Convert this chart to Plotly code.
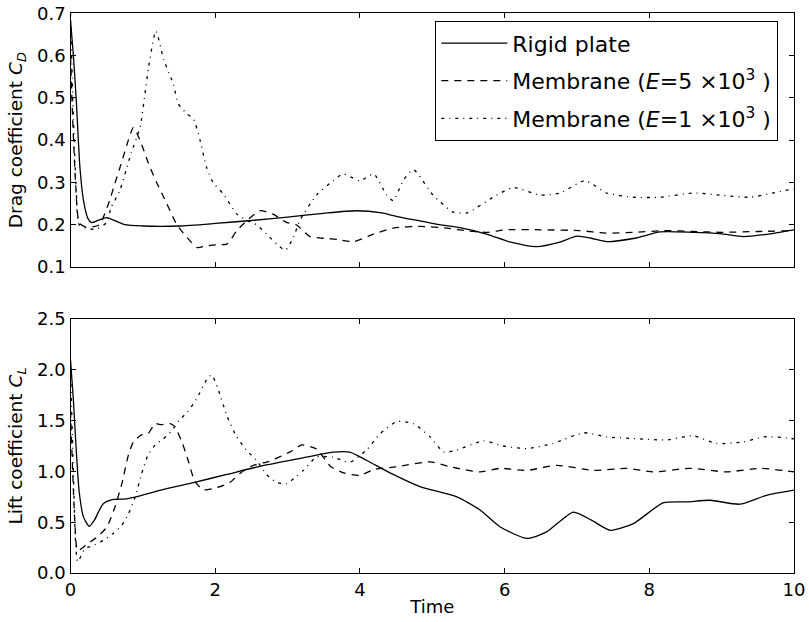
import plotly.graph_objects as go

# ---- data ----
t_cd_rigid = [0, 0.04, 0.08, 0.13, 0.18, 0.24, 0.29, 0.38, 0.5, 0.75, 1.0, 1.5, 2.0, 2.5, 3.0, 3.5, 3.95, 4.3, 4.55, 4.83, 5.1, 5.38, 5.75, 6.1, 6.44, 6.75, 7.0, 7.2, 7.41, 7.8, 8.15, 8.6, 8.98, 9.3, 9.65, 10.0]
cd_rigid = [0.684, 0.6, 0.494, 0.336, 0.257, 0.215, 0.205, 0.21, 0.217, 0.2, 0.197, 0.197, 0.203, 0.21, 0.218, 0.227, 0.233, 0.228, 0.218, 0.209, 0.2, 0.193, 0.178, 0.158, 0.148, 0.158, 0.173, 0.168, 0.16, 0.168, 0.183, 0.182, 0.179, 0.172, 0.178, 0.188]

t_cd_mem5 = [0, 0.03, 0.07, 0.12, 0.2, 0.3, 0.4, 0.54, 0.6, 0.7, 0.8, 0.87, 0.96, 1.08, 1.19, 1.33, 1.47, 1.61, 1.75, 1.88, 2.04, 2.16, 2.3, 2.44, 2.62, 2.8, 2.99, 3.12, 3.31, 3.5, 3.7, 3.91, 4.19, 4.46, 4.83, 5.2, 5.5, 5.75, 6.03, 6.5, 7.04, 7.4, 7.8, 8.2, 8.6, 9.0, 9.5, 10.0]
cd_mem5 = [0.6, 0.45, 0.3, 0.205, 0.195, 0.195, 0.2, 0.257, 0.29, 0.344, 0.4, 0.43, 0.4, 0.344, 0.3, 0.25, 0.2, 0.17, 0.146, 0.15, 0.153, 0.154, 0.186, 0.21, 0.233, 0.225, 0.205, 0.2, 0.172, 0.168, 0.165, 0.16, 0.178, 0.192, 0.196, 0.192, 0.185, 0.182, 0.188, 0.188, 0.186, 0.18, 0.182, 0.186, 0.184, 0.182, 0.184, 0.186]

t_cd_mem1 = [0, 0.04, 0.08, 0.12, 0.25, 0.36, 0.5, 0.56, 0.68, 0.77, 0.84, 0.96, 1.03, 1.08, 1.18, 1.29, 1.42, 1.49, 1.61, 1.7, 1.79, 1.88, 1.97, 2.11, 2.2, 2.3, 2.44, 2.57, 2.71, 2.85, 2.97, 3.08, 3.17, 3.4, 3.63, 3.77, 4.0, 4.19, 4.37, 4.46, 4.6, 4.74, 5.01, 5.29, 5.48, 5.84, 6.12, 6.49, 6.77, 7.11, 7.41, 7.78, 8.15, 8.61, 8.98, 9.39, 9.71, 10.0]
cd_mem1 = [0.7, 0.45, 0.28, 0.2, 0.19, 0.19, 0.205, 0.24, 0.28, 0.33, 0.37, 0.43, 0.51, 0.573, 0.658, 0.59, 0.533, 0.486, 0.462, 0.45, 0.4, 0.336, 0.3, 0.273, 0.25, 0.225, 0.21, 0.2, 0.178, 0.154, 0.14, 0.17, 0.21, 0.27, 0.304, 0.32, 0.304, 0.32, 0.27, 0.257, 0.305, 0.33, 0.27, 0.23, 0.228, 0.265, 0.288, 0.27, 0.275, 0.304, 0.275, 0.265, 0.265, 0.275, 0.27, 0.265, 0.275, 0.285]

t_cl_rigid = [0, 0.04, 0.08, 0.12, 0.18, 0.26, 0.33, 0.45, 0.59, 0.77, 0.96, 1.33, 1.7, 2.16, 2.62, 3.12, 3.63, 3.86, 4.09, 4.46, 4.83, 5.34, 5.66, 5.94, 6.31, 6.58, 6.95, 7.2, 7.46, 7.78, 8.19, 8.52, 8.84, 9.25, 9.62, 10.0]
cl_rigid = [2.1, 1.7, 1.2, 0.8, 0.55, 0.46, 0.52, 0.68, 0.724, 0.73, 0.76, 0.83, 0.89, 0.97, 1.05, 1.12, 1.19, 1.19, 1.11, 0.97, 0.85, 0.75, 0.62, 0.453, 0.34, 0.404, 0.6, 0.52, 0.42, 0.486, 0.69, 0.70, 0.716, 0.677, 0.765, 0.815]

t_cl_mem5 = [0, 0.03, 0.06, 0.1, 0.22, 0.36, 0.5, 0.61, 0.71, 0.8, 0.87, 0.98, 1.07, 1.17, 1.24, 1.38, 1.44, 1.54, 1.63, 1.72, 1.84, 2.02, 2.2, 2.36, 2.53, 2.75, 3.03, 3.2, 3.4, 3.6, 3.8, 4.0, 4.2, 4.5, 4.97, 5.25, 5.66, 5.94, 6.31, 6.72, 7.23, 7.69, 8.05, 8.56, 9.07, 9.53, 10.0]
cl_mem5 = [1.6, 1.0, 0.5, 0.22, 0.28, 0.35, 0.45, 0.64, 0.88, 1.16, 1.29, 1.36, 1.37, 1.47, 1.46, 1.47, 1.44, 1.29, 1.1, 0.9, 0.82, 0.84, 0.89, 0.99, 1.06, 1.1, 1.19, 1.26, 1.22, 1.045, 0.98, 0.96, 1.02, 1.045, 1.094, 1.045, 0.995, 1.03, 1.01, 1.06, 1.01, 1.03, 0.995, 1.03, 0.995, 1.03, 0.995]

t_cl_mem1 = [0, 0.04, 0.07, 0.1, 0.2, 0.31, 0.45, 0.59, 0.71, 0.8, 0.89, 0.98, 1.07, 1.17, 1.28, 1.4, 1.5, 1.61, 1.74, 1.88, 1.95, 2.04, 2.16, 2.29, 2.43, 2.57, 2.71, 2.85, 2.99, 3.12, 3.22, 3.4, 3.63, 3.86, 4.09, 4.28, 4.51, 4.74, 4.97, 5.16, 5.34, 5.71, 5.98, 6.31, 6.67, 7.09, 7.41, 7.87, 8.24, 8.61, 8.93, 9.3, 9.58, 9.9, 10.0]
cl_mem1 = [2.0, 1.0, 0.3, 0.11, 0.24, 0.27, 0.32, 0.39, 0.47, 0.58, 0.74, 0.97, 1.16, 1.26, 1.32, 1.4, 1.5, 1.58, 1.71, 1.9, 1.95, 1.81, 1.55, 1.35, 1.21, 1.11, 0.97, 0.89, 0.88, 0.95, 1.01, 1.14, 1.14, 1.09, 1.21, 1.37, 1.49, 1.47, 1.34, 1.19, 1.21, 1.3, 1.25, 1.225, 1.275, 1.38, 1.34, 1.32, 1.31, 1.35, 1.275, 1.29, 1.34, 1.33, 1.32]

names = ["Rigid plate",
         "Membrane (<i>E</i>=5 ×10<sup>3</sup> )",
         "Membrane (<i>E</i>=1 ×10<sup>3</sup> )"]
dashes = ["solid", "7px,6px", "3px,5px,1px,5px"]

fig = go.Figure()
top = [(t_cd_rigid, cd_rigid), (t_cd_mem5, cd_mem5), (t_cd_mem1, cd_mem1)]
bot = [(t_cl_rigid, cl_rigid), (t_cl_mem5, cl_mem5), (t_cl_mem1, cl_mem1)]
for i, (tt, vv) in enumerate(top):
    fig.add_trace(go.Scatter(x=tt, y=vv, mode="lines", name=names[i],
                             legendgroup="g%d" % i,
                             line=dict(color="black", width=1.3, dash=dashes[i],
                                       shape="spline", smoothing=0.6),
                             xaxis="x", yaxis="y"))
for i, (tt, vv) in enumerate(bot):
    fig.add_trace(go.Scatter(x=tt, y=vv, mode="lines", name=names[i], showlegend=False,
                             line=dict(color="black", width=1.3, dash=dashes[i],
                                       shape="spline", smoothing=0.6),
                             xaxis="x2", yaxis="y2"))

W, H = 809, 622

def px_x(p):
    return p / W

def px_y(p):
    return 1 - p / H

axis_common = dict(showline=True, linecolor="black", linewidth=1.3, mirror="ticks",
                   ticks="inside", ticklen=5, tickcolor="black", showgrid=False,
                   zeroline=False, automargin=False, ticklabeloverflow="allow",
                   tickfont=dict(size=18, color="black"))
xd = [px_x(70.5), px_x(794)]
fig.update_layout(
    width=W, height=H,
    margin=dict(l=0, r=0, t=0, b=0, autoexpand=False),
    paper_bgcolor="white", plot_bgcolor="white",
    font=dict(family="DejaVu Sans", color="black"),
    showlegend=True,
    legend=dict(x=px_x(435), y=px_y(21), xanchor="left", yanchor="top",
                bordercolor="black", borderwidth=1.3, bgcolor="white",
                font=dict(size=22), tracegroupgap=6, itemwidth=66),
    xaxis=dict(domain=xd, range=[0, 10], dtick=2, showticklabels=False,
               anchor="y", **axis_common),
    yaxis=dict(domain=[px_y(267), px_y(13.3)], range=[0.1, 0.7], dtick=0.1,
               tickformat=".1f", anchor="x",
               title=dict(text="Drag coefficient <i>C<sub>D</sub></i>", font=dict(size=18.5),
                          standoff=9),
               **axis_common),
    xaxis2=dict(domain=xd, range=[0, 10], dtick=2, anchor="y2",
                title=dict(text="Time", font=dict(size=18), standoff=1),
                **axis_common),
    yaxis2=dict(domain=[px_y(573), px_y(319)], range=[0, 2.5], dtick=0.5,
                tickformat=".1f", anchor="x2",
                title=dict(text="Lift coefficient <i>C<sub>L</sub></i>", font=dict(size=18.5),
                           standoff=9),
                **axis_common),
)
fig.write_html("out.html", config={"displayModeBar": False},
               post_script="document.body.style.margin='0';document.body.style.overflow='hidden';")
